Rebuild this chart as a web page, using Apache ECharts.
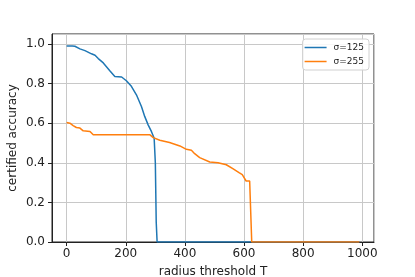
<!DOCTYPE html>
<html>
<head>
<meta charset="utf-8">
<script src="https://cdn.jsdelivr.net/npm/echarts@6/dist/echarts.min.js"></script>
<style>
html,body{margin:0;padding:0;background:#fff;}
#c{width:415px;height:277px;}
</style>
</head>
<body>
<div id="c"></div>
<script>
const seriesNames = ['σ=125', 'σ=255'];
const blueX = [0, 19, 28, 45, 62, 84, 96, 107, 124, 146, 163, 186, 202, 219, 236, 253, 264, 276, 287, 296, 300, 303, 306, 990];
const blueY = [0.99, 0.99, 0.988, 0.975, 0.966, 0.95, 0.943, 0.926, 0.904, 0.865, 0.836, 0.833, 0.814, 0.786, 0.743, 0.684, 0.634, 0.59, 0.557, 0.524, 0.4, 0.1, 0, 0];
const orangeX = [0, 11, 22, 33, 45, 56, 79, 90, 282, 293, 315, 348, 383, 405, 422, 433, 450, 484, 512, 517, 540, 562, 583, 594, 600, 607, 619, 626, 990];
const orangeY = [0.603, 0.60, 0.588, 0.578, 0.575, 0.561, 0.558, 0.541, 0.541, 0.527, 0.514, 0.502, 0.485, 0.468, 0.463, 0.446, 0.426, 0.404, 0.40, 0.392, 0.39, 0.37, 0.35, 0.34, 0.33, 0.308, 0.308, 0, 0];
const xTicks = [0, 200, 400, 600, 800, 1000];
const yTicks = [0.0, 0.2, 0.4, 0.6, 0.8, 1.0];

const pairs = (xs, ys) => xs.map((x, i) => [x, ys[i]]);
const font = 'DejaVu Sans';
const chart = echarts.init(document.getElementById('c'), null, {renderer: 'canvas'});
chart.setOption({
  animation: false,
  backgroundColor: '#fff',
  grid: {left: 52, right: 41, top: 34, bottom: 35, outerBoundsMode: 'none', containLabel: false,
         show: true, borderColor: '#222', borderWidth: 1, backgroundColor: 'transparent'},
  legend: {
    orient: 'vertical', right: 46, top: 39,
    data: seriesNames.map(n => ({name: n, icon: 'rect'})),
    itemWidth: 22, itemHeight: 1.5, itemGap: 3,
    padding: [3, 5, 3, 2],
    backgroundColor: 'rgba(255,255,255,0.85)',
    borderColor: '#d0d0d0', borderWidth: 1, borderRadius: 3,
    textStyle: {fontFamily: font, fontSize: 9, color: '#222', padding: [0, 0, 0, 2], lineHeight: 11}
  },
  xAxis: {
    type: 'value', min: -49.5, max: 1039.5, splitNumber: 5,
    name: 'radius threshold T', nameLocation: 'middle', nameGap: 24, nameMoveOverlap: false,
    nameTextStyle: {fontFamily: font, fontSize: 12, color: '#222'},
    axisLine: {show: true, onZero: false, lineStyle: {color: '#222', width: 1}},
    axisTick: {show: true, length: 4, lineStyle: {color: '#222'}},
    axisLabel: {fontFamily: font, fontSize: 12, color: '#222', margin: 6, showMinLabel: false, showMaxLabel: false,
      formatter: v => xTicks.includes(v) ? String(v) : ''},
    splitLine: {show: true, lineStyle: {color: '#c8c8c8', width: 1}}
  },
  yAxis: {
    type: 'value', min: 0, max: 1.05, interval: 0.2,
    name: 'certified accuracy', nameLocation: 'middle', nameGap: 33, nameMoveOverlap: false,
    nameTextStyle: {fontFamily: font, fontSize: 12, color: '#222'},
    axisLine: {show: true, onZero: false, lineStyle: {color: '#222', width: 1}},
    axisTick: {show: true, length: 4, lineStyle: {color: '#222'}},
    axisLabel: {fontFamily: font, fontSize: 12, color: '#222', margin: 7, showMaxLabel: false,
      formatter: v => { const t = yTicks.find(y => Math.abs(y - v) < 1e-6); return t === undefined ? '' : t.toFixed(1); }},
    splitLine: {show: true, lineStyle: {color: '#c8c8c8', width: 1}}
  },
  series: [
    {name: seriesNames[0], type: 'line', symbol: 'none', data: pairs(blueX, blueY),
     lineStyle: {color: '#1f77b4', width: 1.5}, itemStyle: {color: '#1f77b4'}, z: 3},
    {name: seriesNames[1], type: 'line', symbol: 'none', data: pairs(orangeX, orangeY),
     lineStyle: {color: '#ff7f0e', width: 1.5}, itemStyle: {color: '#ff7f0e'}, z: 4}
  ]
});
</script>
</body>
</html>
